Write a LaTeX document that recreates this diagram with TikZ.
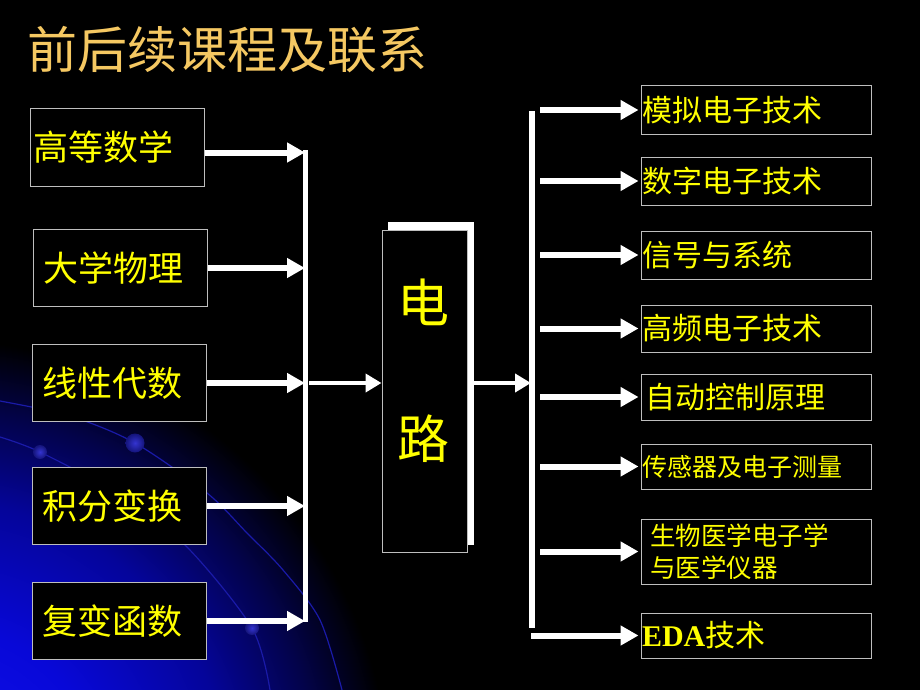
\documentclass[tikz,border=0pt]{standalone}
\usepackage{fontspec}
\newfontfamily\cjk{Noto Sans CJK SC}
\newfontfamily\tnr{Liberation Serif}
\usetikzlibrary{arrows.meta}
\definecolor{ttl}{HTML}{F5C862}
\definecolor{txt}{HTML}{FFFF00}
\definecolor{bord}{HTML}{BEBEBE}
\definecolor{glowa}{HTML}{1414F4}
\definecolor{glowb}{HTML}{0808D8}
\definecolor{glowc}{HTML}{05059A}
\definecolor{glowd}{HTML}{03034A}
\definecolor{arcblue}{HTML}{1A1AA8}
\definecolor{dotin}{HTML}{3434D0}
\definecolor{dotout}{HTML}{14147A}
\pgfdeclareradialshading{glow}{\pgfpoint{0bp}{0bp}}{color(0bp)=(glowa); color(9bp)=(glowb); color(16bp)=(glowc); color(21bp)=(glowd); color(25bp)=(black); color(50bp)=(black)}
\begin{document}
\begin{tikzpicture}[x=1pt,y=-1pt,
  lbox/.style={draw=bord, line width=1pt, fill=black, text=txt,
    font=\cjk\fontsize{35}{40}\selectfont, align=left,
    minimum height=77pt, text width=154pt, inner xsep=10pt},
  rbox/.style={draw=bord, line width=1pt, fill=black, text=txt,
    font=\cjk\fontsize{30}{34}\selectfont, align=left,
    text width=228pt, inner xsep=1pt},
  arr/.style={draw=white, line width=6pt, -{Triangle[length=18pt,width=19pt]}},
  arrthin/.style={draw=white, line width=4pt, -{Triangle[length=16pt,width=18pt]}},
  bar/.style={draw=white, line width=5.5pt},
  dot/.style={inner color=dotin, outer color=dotout}
]
\fill[black] (0,0) rectangle (920,690);
\useasboundingbox (0,0) rectangle (920,690);
\begin{scope}
  \clip (0,0) rectangle (920,690);
  \shade[shading=glow] (-60,790) circle (450);
  \draw[arcblue, line width=1.2pt] plot[smooth] coordinates {(0,401) (70,416) (135,443) (207,493) (247,533) (283,570) (320,620) (342,690)};
  \draw[arcblue, line width=1.2pt] plot[smooth] coordinates {(0,437) (40,452) (120,495) (187,547) (252,628) (270,690)};
  \shade[dot] (135,443) circle (9.5);
  \shade[dot] (40,452) circle (7);
  \shade[dot] (252,628) circle (7);
\end{scope}

% title
\node[anchor=west, inner sep=0pt, text=ttl, font=\cjk\fontsize{50}{56}\selectfont] (title) at (27,50) {前后续课程及联系};

% left boxes
\node[lbox, text width=168pt, inner xsep=3pt] (g1) at (117,147.5) {高等数学};
\node[lbox] (g2) at (120,268) {大学物理};
\node[lbox] (g3) at (119.5,383) {线性代数};
\node[lbox] (g4) at (119.5,506) {积分变换};
\node[lbox] (g5) at (119.5,621) {复变函数};

% left bar
\coordinate (lbt) at (305.5,150);
\coordinate (lbb) at (305.5,622);
\coordinate (lb) at (305,0);
\draw[bar] (lbt) -- (lbb);
\draw[arr] ([yshift=-5pt]g1.east) -- ([yshift=-5pt]g1.east -| lb);
\draw[arr] (g2.east) -- (g2.east -| lb);
\draw[arr] (g3.east) -- (g3.east -| lb);
\draw[arr] (g4.east) -- (g4.east -| lb);
\draw[arr] (g5.east) -- (g5.east -| lb);

% centre box
\node[fill=white, minimum width=86pt, minimum height=323pt, inner sep=0pt] (dls) at (431,383.5) {};
\node[draw=bord, line width=1pt, fill=black, minimum width=85pt, minimum height=322pt, inner sep=0pt] (dl) at (424.5,391) {};
\node[text=txt, font=\cjk\fontsize{52}{56}\selectfont, inner sep=0pt] (dian) at (423,302) {电};
\node[text=txt, font=\cjk\fontsize{52}{56}\selectfont, inner sep=0pt] (lu) at (423,439) {路};

\coordinate (m1) at (309,383);
\coordinate (m2) at (531,383);
\draw[arrthin] (m1) -- (m1 -| dl.west);
\draw[arrthin] (m2 -| dls.east) -- (m2);

% right bar
\coordinate (rbt) at (532,111);
\coordinate (rbb) at (532,628);
\coordinate (rb) at (531,0);
\coordinate (rs) at (540,0);
\draw[bar, line width=6pt] (rbt) -- (rbb);

% right boxes
\node[rbox, minimum height=48pt] (r1) at (756,110) {模拟电子技术};
\node[rbox, minimum height=48pt] (r2) at (756,181) {数字电子技术};
\node[rbox, minimum height=48pt] (r3) at (756,255) {信号与系统};
\node[rbox, minimum height=47pt] (r4) at (756,328.5) {高频电子技术};
\node[rbox, minimum height=46pt, text width=222pt, inner xsep=4pt] (r5) at (756,397) {自动控制原理};
\node[rbox, minimum height=45pt, font=\cjk\fontsize{25}{30}\selectfont] (r6) at (756,466.5) {传感器及电子测量};
\node[rbox, minimum height=65pt, text width=212pt, inner xsep=9pt, font=\cjk\fontsize{25.5}{32}\selectfont] (r7) at (756,551.5) {生物医学电子学\\与医学仪器};
\node[rbox, minimum height=45pt] (r8) at (756,635.5) {{\tnr\bfseries EDA}技术};

\draw[arr] (r1.west -| rs) -- ([xshift=-2pt]r1.west);
\draw[arr] (r2.west -| rs) -- ([xshift=-2pt]r2.west);
\draw[arr] (r3.west -| rs) -- ([xshift=-2pt]r3.west);
\draw[arr] (r4.west -| rs) -- ([xshift=-2pt]r4.west);
\draw[arr] (r5.west -| rs) -- ([xshift=-2pt]r5.west);
\draw[arr] (r6.west -| rs) -- ([xshift=-2pt]r6.west);
\draw[arr] (r7.west -| rs) -- ([xshift=-2pt]r7.west);
\draw[arr] (r8.west -| rb) -- ([xshift=-2pt]r8.west);
\end{tikzpicture}
\end{document}
